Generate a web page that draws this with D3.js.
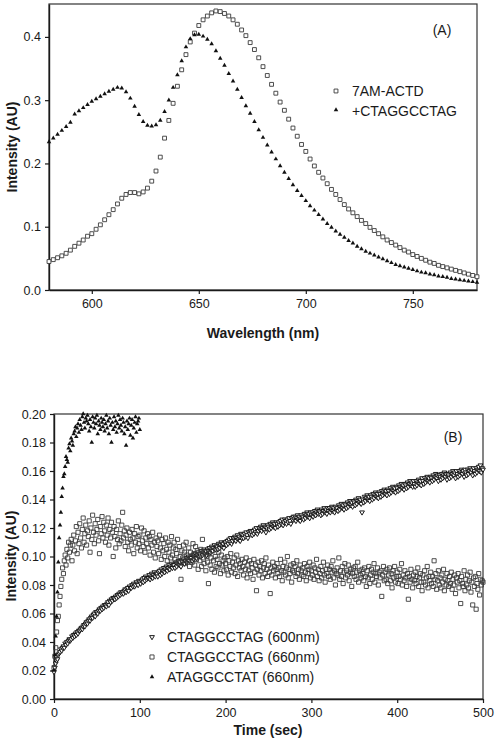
<!DOCTYPE html>
<html><head><meta charset="utf-8">
<script src="https://cdn.jsdelivr.net/npm/d3@7"></script>
<style>
html,body{margin:0;padding:0;background:#fff;}
svg{display:block;font-family:"Liberation Sans",Arial,sans-serif;}
</style></head>
<body>
<svg id="chart" width="495" height="745"></svg>
<script>
// ---------- Panel A: emission spectra ----------
const wavelengths = d3.range(580, 781, 2);
const seriesA_names = ["7AM-ACTD", "+CTAGGCCTAG"];
const free7AM = [
 .045,.048,.051,.054,.058,.063,.069,.074,.079,.085,
 .089,.096,.103,.111,.119,.127,.136,.145,.151,.154,
 .154,.152,.155,.161,.172,.188,.210,.240,.268,.295,
 .322,.348,.372,.392,.406,.418,.427,.433,.438,.441,
 .440,.437,.433,.427,.420,.411,.402,.391,.380,.367,
 .353,.339,.325,.311,.297,.284,.270,.256,.243,.230,
 .219,.207,.196,.186,.177,.168,.159,.151,.143,.135,
 .128,.122,.116,.110,.105,.099,.094,.089,.084,.079,
 .075,.071,.067,.063,.060,.056,.053,.050,.047,.044,
 .042,.039,.037,.035,.033,.031,.029,.027,.025,.023,
 .021];
const withDNA = [
 .234,.240,.246,.252,.258,.265,.278,.283,.288,.293,
 .298,.302,.306,.310,.314,.317,.320,.319,.313,.303,
 .290,.277,.266,.260,.259,.261,.268,.282,.300,.320,
 .340,.362,.384,.397,.403,.404,.401,.396,.389,.378,
 .366,.355,.342,.330,.317,.304,.291,.279,.266,.253,
 .241,.229,.218,.207,.196,.186,.176,.166,.157,.149,
 .141,.133,.126,.119,.112,.105,.099,.093,.088,.083,
 .078,.074,.069,.065,.061,.058,.055,.052,.049,.046,
 .043,.040,.038,.036,.034,.032,.030,.028,.027,.025,
 .024,.022,.021,.020,.018,.017,.016,.015,.014,.013,
 .012];
const xTicksA = [600, 650, 700, 750];
const yTicksA = [0, 0.1, 0.2, 0.3, 0.4];

// ---------- Panel B: kinetics ----------
const timesSlow = d3.range(0, 501, 1);
const timesFast = d3.range(0, 101, 1);
const seriesB_names = ["CTAGGCCTAG (600nm)", "CTAGGCCTAG (660nm)", "ATAGGCCTAT (660nm)"];
const ctag600 = [
 .019,.022,.025,.027,.028,.031,.032,.033,.035,.034,
 .036,.037,.036,.039,.038,.040,.039,.041,.042,.041,
 .042,.044,.043,.045,.044,.046,.045,.047,.046,.048,
 .048,.049,.050,.049,.051,.052,.051,.053,.054,.053,
 .055,.056,.055,.057,.058,.057,.059,.060,.058,.061,
 .061,.060,.062,.063,.062,.064,.063,.065,.064,.066,
 .066,.065,.067,.068,.066,.069,.068,.070,.069,.071,
 .071,.070,.072,.071,.073,.072,.074,.073,.075,.074,
 .075,.074,.076,.077,.075,.077,.078,.076,.079,.078,
 .078,.080,.079,.081,.079,.080,.082,.081,.080,.083,
 .082,.081,.083,.084,.082,.085,.083,.086,.084,.085,
 .085,.087,.084,.086,.088,.085,.087,.089,.086,.088,
 .088,.086,.089,.090,.087,.091,.088,.090,.092,.089,
 .091,.093,.090,.092,.094,.091,.093,.095,.092,.094,
 .094,.092,.096,.093,.095,.097,.094,.096,.093,.097,
 .096,.098,.095,.097,.099,.096,.098,.100,.097,.099,
 .099,.097,.101,.098,.100,.102,.099,.101,.103,.100,
 .102,.100,.104,.101,.103,.105,.102,.104,.101,.105,
 .104,.106,.103,.105,.107,.104,.106,.108,.105,.107,
 .107,.105,.109,.106,.108,.110,.107,.109,.106,.110,
 .110,.108,.111,.109,.112,.110,.113,.109,.111,.113,
 .112,.114,.111,.113,.115,.112,.114,.111,.116,.113,
 .115,.113,.116,.114,.117,.115,.113,.117,.116,.118,
 .117,.115,.118,.116,.119,.117,.120,.116,.118,.120,
 .119,.121,.118,.120,.122,.119,.121,.117,.120,.122,
 .121,.119,.123,.120,.122,.124,.121,.123,.120,.124,
 .123,.121,.124,.122,.125,.123,.126,.122,.124,.126,
 .125,.123,.126,.124,.127,.125,.123,.127,.126,.128,
 .126,.128,.125,.127,.129,.126,.128,.125,.129,.127,
 .128,.126,.130,.127,.129,.131,.128,.130,.127,.131,
 .129,.131,.128,.130,.132,.129,.131,.133,.130,.132,
 .131,.129,.133,.130,.132,.134,.131,.133,.130,.134,
 .132,.134,.131,.133,.135,.132,.134,.131,.135,.133,
 .134,.132,.136,.133,.135,.137,.134,.136,.133,.137,
 .136,.134,.138,.135,.137,.139,.136,.138,.135,.139,
 .138,.136,.140,.137,.139,.141,.138,.140,.137,.131,
 .140,.138,.142,.139,.141,.143,.140,.142,.139,.143,
 .142,.140,.144,.141,.143,.145,.142,.144,.141,.145,
 .144,.142,.146,.143,.145,.147,.144,.146,.143,.147,
 .146,.144,.148,.145,.147,.149,.146,.148,.145,.149,
 .148,.146,.150,.147,.149,.151,.148,.150,.147,.151,
 .150,.148,.152,.149,.151,.153,.150,.152,.149,.153,
 .151,.149,.153,.150,.152,.154,.151,.153,.150,.155,
 .153,.151,.155,.152,.154,.156,.153,.155,.152,.156,
 .155,.153,.157,.154,.156,.158,.155,.157,.153,.157,
 .156,.154,.158,.155,.157,.159,.156,.158,.154,.158,
 .157,.155,.159,.156,.158,.160,.157,.159,.155,.160,
 .158,.156,.160,.157,.159,.161,.158,.160,.156,.161,
 .159,.157,.161,.158,.160,.162,.159,.161,.157,.162,
 .160,.158,.162,.159,.161,.163,.160,.164,.159,.162,
 .161];
const ctag660 = [
 .022,.030,.036,.047,.055,.058,.066,.072,.079,.084,
 .092,.088,.097,.101,.094,.105,.099,.110,.103,.108,
 .112,.097,.108,.115,.104,.111,.121,.102,.117,.109,
 .123,.113,.106,.119,.127,.110,.116,.122,.108,.118,
 .114,.125,.103,.120,.112,.129,.117,.109,.123,.115,
 .119,.126,.111,.102,.121,.116,.128,.113,.124,.118,
 .110,.122,.115,.127,.108,.119,.113,.124,.117,.100,
 .121,.114,.106,.119,.112,.125,.109,.116,.111,.122,
 .131,.113,.118,.107,.115,.120,.110,.104,.117,.112,
 .108,.119,.113,.102,.116,.110,.121,.106,.114,.109,
 .115,.104,.120,.111,.107,.118,.103,.113,.109,.116,
 .106,.114,.101,.112,.108,.117,.103,.110,.099,.113,
 .107,.111,.102,.115,.106,.098,.112,.104,.109,.100,
 .113,.105,.097,.110,.103,.108,.099,.114,.101,.106,
 .110,.098,.105,.102,.112,.096,.107,.100,.084,.104,
 .099,.108,.103,.095,.110,.101,.097,.106,.093,.103,
 .100,.096,.109,.102,.094,.107,.098,.104,.091,.101,
 .097,.105,.093,.112,.099,.095,.103,.090,.100,.096,
 .081,.102,.094,.099,.091,.104,.097,.089,.100,.093,
 .098,.092,.103,.095,.088,.101,.094,.097,.090,.099,
 .095,.091,.100,.087,.097,.093,.102,.089,.096,.092,
 .099,.088,.094,.101,.086,.097,.092,.095,.090,.098,
 .093,.087,.096,.091,.099,.085,.094,.090,.097,.088,
 .095,.092,.084,.098,.089,.094,.076,.091,.096,.087,
 .093,.090,.097,.085,.092,.095,.088,.099,.091,.086,
 .094,.089,.074,.092,.087,.096,.090,.093,.085,.091,
 .095,.088,.092,.086,.098,.090,.083,.093,.089,.096,
 .087,.092,.100,.085,.091,.088,.094,.082,.090,.095,
 .089,.093,.086,.097,.088,.091,.084,.094,.090,.087,
 .092,.086,.095,.089,.083,.093,.088,.091,.096,.085,
 .090,.087,.094,.084,.092,.089,.098,.086,.091,.083,
 .088,.093,.085,.090,.096,.087,.082,.091,.088,.094,
 .086,.091,.084,.093,.089,.097,.085,.090,.080,.088,
 .092,.087,.099,.084,.090,.086,.093,.081,.089,.095,
 .085,.090,.087,.094,.083,.089,.091,.079,.088,.092,
 .086,.093,.084,.089,.096,.082,.090,.087,.085,.091,
 .088,.083,.092,.086,.079,.090,.085,.093,.081,.087,
 .091,.084,.089,.095,.082,.088,.086,.092,.080,.089,
 .085,.090,.072,.087,.093,.083,.089,.084,.091,.081,
 .087,.092,.083,.088,.078,.090,.085,.093,.082,.086,
 .089,.081,.086,.091,.084,.095,.080,.087,.083,.090,
 .085,.079,.088,.070,.086,.082,.091,.084,.078,.087,
 .083,.089,.081,.086,.092,.079,.085,.088,.082,.076,
 .087,.082,.090,.080,.085,.093,.078,.086,.083,.089,
 .081,.086,.079,.097,.084,.088,.077,.083,.090,.080,
 .085,.078,.087,.082,.091,.076,.084,.080,.088,.083,
 .079,.086,.081,.089,.077,.084,.080,.087,.074,.085,
 .082,.088,.078,.083,.067,.086,.081,.079,.090,.076,
 .084,.080,.087,.078,.083,.089,.075,.082,.066,.085,
 .079,.086,.063,.081,.077,.088,.073,.084,.080,.083,
 .082];
const atag660 = [
 .020,.031,.044,.058,.075,.096,.113,.122,.131,.142,
 .148,.156,.158,.163,.170,.168,.166,.176,.179,.174,
 .183,.181,.178,.186,.188,.191,.184,.190,.193,.187,
 .196,.192,.189,.198,.200,.194,.190,.197,.195,.199,
 .193,.188,.196,.191,.180,.198,.194,.190,.197,.193,
 .199,.186,.195,.192,.189,.197,.194,.191,.196,.188,
 .193,.199,.190,.195,.186,.197,.192,.180,.194,.189,
 .198,.191,.195,.187,.193,.199,.190,.196,.192,.188,
 .197,.194,.186,.191,.178,.195,.189,.193,.197,.185,
 .192,.196,.183,.190,.194,.198,.187,.193,.195,.197,
 .189];
const xTicksB = [0, 100, 200, 300, 400, 500];
const yTicksB = d3.range(0, 0.2001, 0.02);

const svg = d3.select("#chart");
const FONT = '"Liberation Sans",Arial,sans-serif';
const INK = "#1a1a1a";

function frame(g, x, y, fmtX, fmtY, xt, yt) {
  const [x0, x1] = x.range(), [y0, y1] = y.range();
  g.append("rect").attr("x", x0).attr("y", y1).attr("width", x1 - x0).attr("height", y0 - y1)
    .attr("fill", "none").attr("stroke", "#333").attr("stroke-width", 1.2);
  const ax = g.append("g").attr("transform", `translate(0,${y0})`)
    .call(d3.axisBottom(x).tickValues(xt).tickFormat(fmtX).tickSize(4).tickSizeOuter(0).tickPadding(5));
  const ay = g.append("g").attr("transform", `translate(${x0},0)`)
    .call(d3.axisLeft(y).tickValues(yt).tickFormat(fmtY).tickSize(4).tickSizeOuter(0).tickPadding(4));
  [ax, ay].forEach(a => {
    a.select(".domain").attr("stroke", INK).attr("stroke-width", 1.4);
    a.selectAll(".tick line").attr("stroke", INK).attr("stroke-width", 1.2);
    a.selectAll(".tick text").attr("font-size", 12.5).attr("fill", INK).attr("font-family", FONT);
  });
}

// ---------- Panel A ----------
const xA = d3.scaleLinear().domain([580, 780]).range([49, 477]);
const yA = d3.scaleLinear().domain([0, 0.452]).range([290, 4]);
const gA = svg.append("g");
frame(gA, xA, yA, d3.format("d"), d3.format(".1f"), xTicksA, yTicksA);

const sq = d3.symbol().type(d3.symbolSquare);
const tri = d3.symbol().type(d3.symbolTriangle);

gA.append("g").selectAll("path").data(wavelengths.map((w, i) => [w, free7AM[i]])).join("path")
  .attr("d", sq.size(15)()).attr("transform", d => `translate(${xA(d[0])},${yA(d[1])})`)
  .attr("fill", "#fff").attr("stroke", "#3a3a3a").attr("stroke-width", 0.9);
gA.append("g").selectAll("path").data(wavelengths.map((w, i) => [w, withDNA[i]])).join("path")
  .attr("d", tri.size(9)()).attr("transform", d => `translate(${xA(d[0])},${yA(d[1])})`)
  .attr("fill", "#111");

gA.append("text").attr("x", 263).attr("y", 338).attr("text-anchor", "middle")
  .attr("font-size", 14).attr("font-weight", "bold").attr("fill", INK).text("Wavelength (nm)");
gA.append("text").attr("transform", "translate(17,147) rotate(-90)").attr("text-anchor", "middle")
  .attr("font-size", 14).attr("font-weight", "bold").attr("fill", INK).text("Intensity (AU)");
gA.append("text").attr("x", 442).attr("y", 35).attr("text-anchor", "middle")
  .attr("font-size", 14).attr("fill", INK).text("(A)");
const legA = gA.append("g");
legA.append("path").attr("d", sq.size(15)()).attr("transform", "translate(336,91)")
  .attr("fill", "#fff").attr("stroke", "#3a3a3a").attr("stroke-width", 0.9);
legA.append("path").attr("d", tri.size(9)()).attr("transform", "translate(336,110)").attr("fill", "#111");
seriesA_names.forEach((n, i) => legA.append("text").attr("x", 352).attr("y", 96 + i * 19.5)
  .attr("font-size", 14).attr("fill", INK).text(n));

// ---------- Panel B ----------
const xB = d3.scaleLinear().domain([0, 500]).range([54, 483]);
const yB = d3.scaleLinear().domain([0, 0.2]).range([699, 414]);
const gB = svg.append("g");
frame(gB, xB, yB, d3.format("d"), d3.format(".2f"), xTicksB, yTicksB);

gB.append("g").selectAll("path").data(timesSlow.map((t, i) => [t, ctag600[i]])).join("path")
  .attr("d", tri.size(10)()).attr("transform", d => `translate(${xB(d[0])},${yB(d[1])}) rotate(180)`)
  .attr("fill", "#fff").attr("stroke", "#111").attr("stroke-width", 0.95);
gB.append("g").selectAll("path").data(timesSlow.map((t, i) => [t, ctag660[i]])).join("path")
  .attr("d", sq.size(17)()).attr("transform", d => `translate(${xB(d[0])},${yB(d[1])})`)
  .attr("fill", "none").attr("stroke", "#3a3a3a").attr("stroke-width", 0.9);
gB.append("g").selectAll("path").data(timesFast.map((t, i) => [t, atag660[i]])).join("path")
  .attr("d", tri.size(9)()).attr("transform", d => `translate(${xB(d[0])},${yB(d[1])})`)
  .attr("fill", "#111");

gB.append("text").attr("x", 268).attr("y", 735).attr("text-anchor", "middle")
  .attr("font-size", 14).attr("font-weight", "bold").attr("fill", INK).text("Time (sec)");
gB.append("text").attr("transform", "translate(16,556) rotate(-90)").attr("text-anchor", "middle")
  .attr("font-size", 14).attr("font-weight", "bold").attr("fill", INK).text("Intensity (AU)");
gB.append("text").attr("x", 453).attr("y", 442).attr("text-anchor", "middle")
  .attr("font-size", 14).attr("fill", INK).text("(B)");
const legB = gB.append("g");
legB.append("path").attr("d", tri.size(10)()).attr("transform", "translate(152,637) rotate(180)")
  .attr("fill", "#fff").attr("stroke", "#111").attr("stroke-width", 0.95);
legB.append("path").attr("d", sq.size(17)()).attr("transform", "translate(152,657)")
  .attr("fill", "#fff").attr("stroke", "#3a3a3a").attr("stroke-width", 0.9);
legB.append("path").attr("d", tri.size(9)()).attr("transform", "translate(152,677)").attr("fill", "#111");
seriesB_names.forEach((n, i) => legB.append("text").attr("x", 167).attr("y", 642 + i * 20)
  .attr("font-size", 14).attr("fill", INK).text(n));
</script>
</body></html>
